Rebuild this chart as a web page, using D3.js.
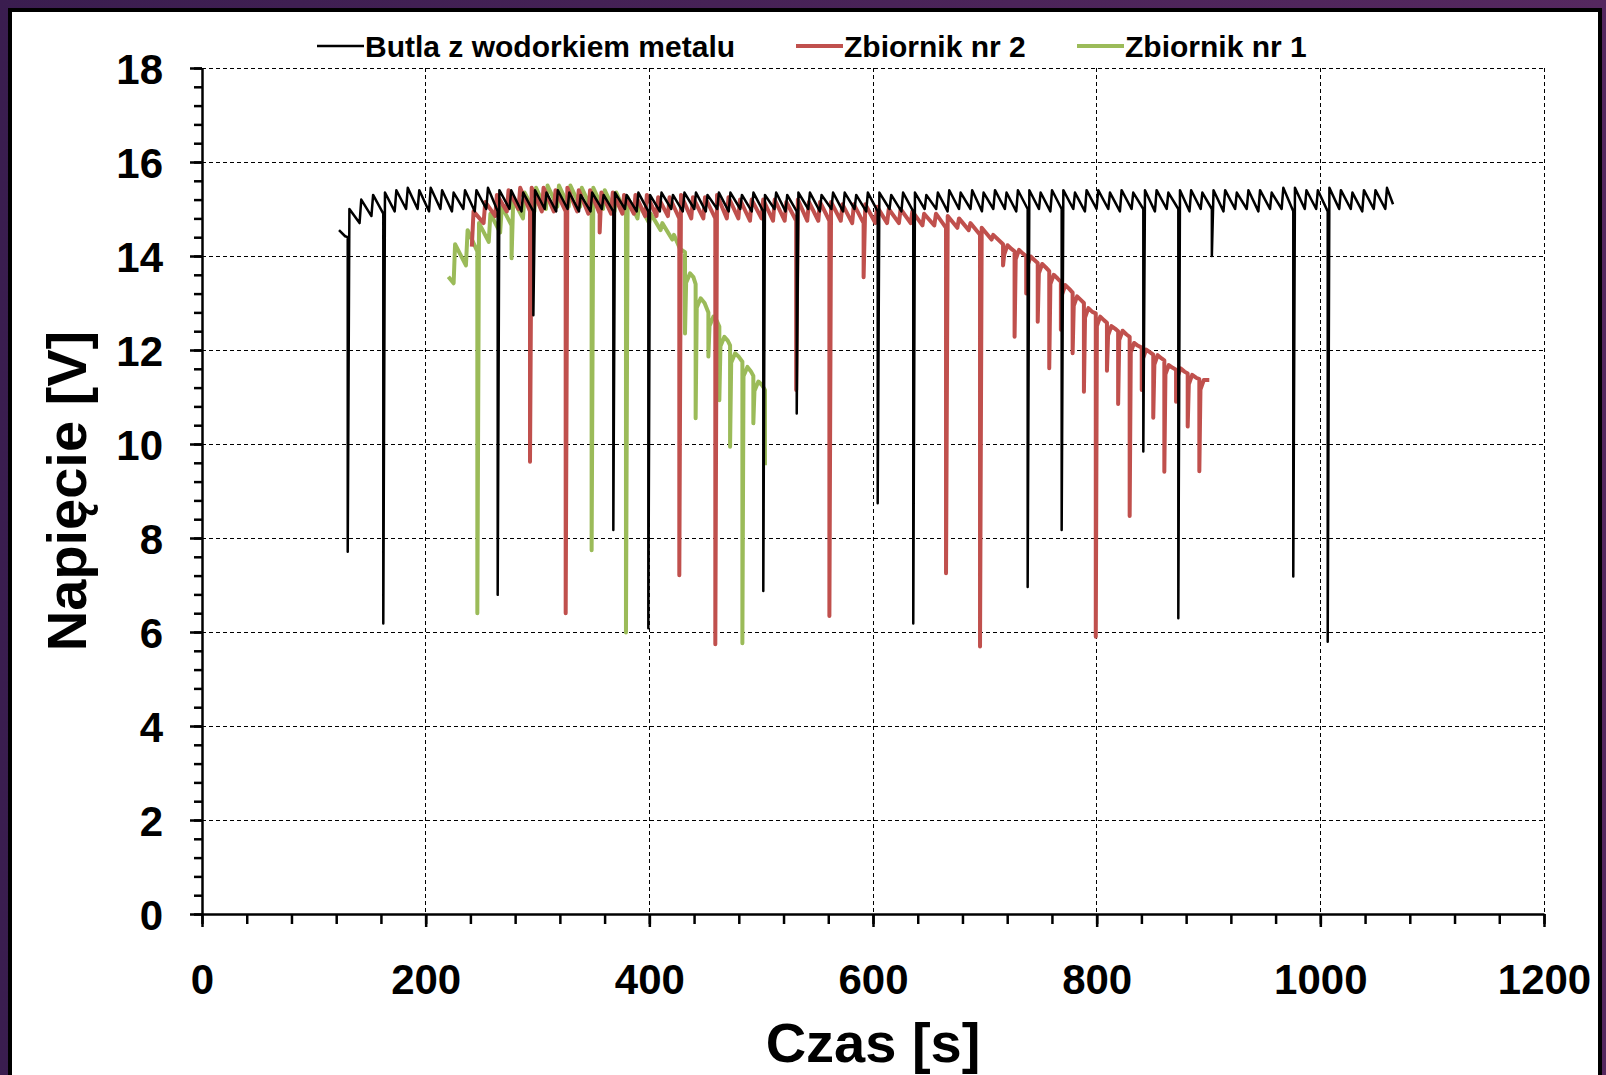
<!DOCTYPE html>
<html>
<head>
<meta charset="utf-8">
<script src="https://cdn.jsdelivr.net/npm/d3@7/dist/d3.min.js"></script>
<style>
  body { margin: 0; background: #3c2051; }
  svg { display: block; }
  text { font-family: "Liberation Sans", Arial, sans-serif; font-weight: bold; fill: #000; }
  .axis text { font-size: 42px; }
  .axis path, .axis line { stroke: #000; stroke-width: 2.5; }
  .grid line { stroke: #000; stroke-width: 1; stroke-dasharray: 4,3; shape-rendering: crispEdges; }
  .series { fill: none; stroke-linejoin: round; }
</style>
</head>
<body>
<svg id="chart"></svg>
<script>
// Tick labels
const xTicks = [0, 200, 400, 600, 800, 1000, 1200];
const yTicks = [0, 2, 4, 6, 8, 10, 12, 14, 16, 18];
const xTitle = 'Czas [s]';
const yTitle = 'Napięcie [V]';
const seriesNames = ['Butla z wodorkiem metalu', 'Zbiornik nr 2', 'Zbiornik nr 1'];

// Butla z wodorkiem metalu: [czas s, napięcie V]
const butla = [
  [122.5,14.55],[128.0,14.42],
  [130.3,14.4],[130.3,7.71],[131.8,15.0], [140.9,14.7],[142.4,15.2], [151.5,14.85],[153.0,15.3],
  [162.1,14.9],[162.1,6.18],[163.6,15.35], [172.3,14.95],[173.8,15.4], [182.5,15.0],[184.0,15.45],
  [192.8,15.0],[194.3,15.4], [203.0,14.95],[204.5,15.45], [213.2,15.0],[214.7,15.4],
  [223.5,14.95],[225.0,15.35], [233.7,15.0],[235.2,15.4], [243.9,14.95],[245.4,15.4],
  [254.2,15.0],[255.7,15.45], [264.4,14.95],[264.4,6.79],[265.9,15.4], [275.0,15.0],[276.5,15.4],
  [285.7,14.95],[287.2,15.35], [296.3,14.95],[296.3,12.74],[297.8,15.4], [306.5,15.0],[308.0,15.35],
  [316.7,14.95],[318.2,15.4], [326.9,15.0],[328.4,15.35], [337.1,14.95],[338.6,15.3],
  [347.4,14.95],[348.9,15.35], [357.6,15.0],[359.1,15.3], [367.8,14.95],[367.8,8.17],[369.3,15.35],
  [378.2,15.0],[379.7,15.3], [388.7,14.95],[390.2,15.35], [399.1,14.95],[399.1,6.08],[400.6,15.3],
  [409.4,14.95],[410.9,15.35], [419.6,15.0],[421.1,15.3], [429.9,14.95],[431.4,15.35],
  [440.2,15.0],[441.7,15.35], [450.5,14.95],[452.0,15.3], [460.7,15.0],[462.2,15.35],
  [471.0,14.95],[472.5,15.35], [481.3,15.0],[482.8,15.3], [491.6,14.95],[493.1,15.35],
  [501.9,14.95],[501.9,6.87],[503.4,15.3], [511.9,15.0],[513.4,15.35], [521.8,14.95],[523.3,15.3],
  [531.8,14.95],[531.8,10.65],[533.3,15.35], [542.1,15.0],[543.6,15.35], [552.5,14.95],[554.0,15.3],
  [562.8,15.0],[564.3,15.35], [573.2,14.95],[574.7,15.35], [583.5,15.0],[585.0,15.3],
  [593.9,14.95],[595.4,15.35], [604.2,14.95],[604.2,8.74],[605.7,15.35], [614.8,15.0],[616.3,15.3],
  [625.4,14.95],[626.9,15.35], [636.0,14.95],[636.0,6.18],[637.5,15.35], [646.2,15.0],[647.7,15.3],
  [656.5,15.0],[658.0,15.35], [666.7,14.95],[668.2,15.4], [676.9,15.0],[678.4,15.35],
  [687.2,15.0],[688.7,15.4], [697.4,14.95],[698.9,15.35], [707.6,15.0],[709.1,15.4],
  [717.9,15.0],[719.4,15.35], [728.1,14.95],[729.6,15.4], [738.3,15.0],[738.3,6.96],[739.8,15.4],
  [748.4,15.0],[749.9,15.35], [758.6,14.95],[760.1,15.4], [768.7,15.0],[768.7,8.17],[770.2,15.4],
  [779.1,15.0],[780.6,15.35], [789.5,14.95],[791.0,15.4], [799.9,15.0],[801.4,15.4],
  [810.4,15.0],[811.9,15.35], [820.8,14.95],[822.3,15.4], [831.2,15.0],[832.7,15.35],
  [841.7,15.0],[841.7,9.84],[843.2,15.4], [852.1,14.95],[853.6,15.4], [862.6,15.0],[864.1,15.35],
  [873.0,15.0],[873.0,6.29],[874.5,15.4], [883.0,14.95],[884.5,15.4], [893.0,15.0],[894.5,15.35],
  [903.0,15.0],[903.0,14.0],[904.5,15.4], [913.4,14.95],[914.9,15.4], [923.8,15.0],[925.3,15.35],
  [934.2,15.0],[935.7,15.4], [944.6,14.95],[946.1,15.4], [955.0,15.0],[956.5,15.35],
  [965.4,15.0],[966.9,15.45], [975.8,14.95],[975.8,7.18],[977.3,15.45], [986.1,15.0],[987.6,15.4],
  [996.3,15.0],[997.8,15.4], [1006.6,14.95],[1006.6,5.79],[1008.1,15.45], [1016.9,15.0],[1018.4,15.4],
  [1027.2,15.0],[1028.7,15.35], [1037.5,14.95],[1039.0,15.4], [1047.8,15.0],[1049.3,15.4],
  [1058.1,15.0],[1059.6,15.45], [1065.0,15.1]
];

// Zbiornik nr 2
const zbiornik2 = [
  [241.3,14.2],[242.8,14.95], [251.8,14.7],[253.3,15.15], [262.2,14.85],[263.7,15.3],
  [272.6,14.95],[274.1,15.4], [283.0,15.0],[284.5,15.45], [293.3,14.95],[293.3,9.62],[294.8,15.45],
  [303.9,14.95],[305.4,15.45], [314.6,14.95],[316.1,15.4], [325.2,14.95],[325.2,6.40],[326.7,15.45],
  [335.4,14.95],[336.9,15.4], [345.5,14.9],[347.0,15.4], [355.6,14.9],[355.6,14.5],[357.1,15.35],
  [365.8,14.9],[367.3,15.35], [375.9,14.9],[377.4,15.3], [386.1,14.9],[387.6,15.3],
  [396.3,14.85],[397.8,15.3], [406.4,14.85],[407.9,15.25], [416.6,14.85],[418.1,15.25],
  [426.8,14.8],[426.8,7.21],[428.3,15.3], [437.5,14.8],[439.0,15.25], [448.3,14.8],[449.8,15.25],
  [459.0,14.8],[459.0,5.74],[460.5,15.3], [469.3,14.8],[470.8,15.25], [479.6,14.8],[481.1,15.2],
  [490.0,14.75],[491.5,15.2], [500.3,14.8],[501.8,15.2], [510.6,14.75],[512.1,15.2],
  [521.0,14.75],[522.5,15.15], [531.3,14.75],[531.3,11.15],[532.8,15.2], [541.2,14.75],[542.7,15.15],
  [551.1,14.75],[552.6,15.15], [561.0,14.75],[561.0,6.34],[562.5,15.15], [571.2,14.75],[572.7,15.1],
  [581.4,14.7],[582.9,15.1], [591.6,14.7],[591.6,13.55],[593.1,15.1], [602.1,14.7],[603.6,15.05],
  [612.6,14.7],[614.1,15.0], [623.2,14.7],[624.7,15.0], [633.7,14.7],[635.2,14.95],
  [644.2,14.65],[645.7,14.9], [654.8,14.65],[656.3,14.9], [665.3,14.6],[665.3,7.25],[666.8,14.85],
  [675.4,14.6],[676.9,14.8], [685.6,14.55],[687.1,14.7], [695.7,14.45],[695.7,5.69],[697.2,14.6],
  [706.0,14.35],[707.5,14.45],
  [716.3,14.25],[716.3,13.8],[717.3,14.03],[720.3,14.23],[723.8,14.15],
  [726.6,14.1],[726.6,12.28],[727.6,13.93],[730.6,14.13],[734.1,14.05],
  [737.0,14.0],[737.0,13.2],[738.0,13.79],[741.0,13.99],[744.5,13.91],
  [747.3,13.85],[747.3,12.6],[748.3,13.63],[751.3,13.83],[754.8,13.75],
  [757.6,13.68],[757.6,11.61],[758.6,13.4],[761.6,13.6],[765.1,13.52],
  [768.0,13.45],[768.0,12.43],[769.0,13.18],[772.0,13.38],[775.5,13.3],
  [778.5,13.22],[778.5,11.93],[779.5,12.94],[782.5,13.14],[786.0,13.06],
  [788.6,13.0],[788.6,11.11],[789.6,12.69],[792.6,12.89],[796.1,12.81],
  [799.2,12.78],[799.2,5.9],[800.2,12.51],[803.2,12.71],[806.7,12.63],
  [809.2,12.58],[809.2,11.56],[810.2,12.31],[813.2,12.51],[816.7,12.45],
  [819.2,12.4],[819.2,10.85],[820.2,12.21],[823.2,12.41],[826.7,12.33],
  [829.5,12.28],[829.5,8.47],[830.5,11.95],[833.5,12.15],[837.0,12.09],
  [840.3,12.05],[840.3,11.15],[841.3,11.81],[844.3,12.01],[847.8,11.95],
  [850.6,11.9],[850.6,10.56],[851.6,11.69],[854.6,11.89],[858.1,11.82],
  [860.5,11.78],[860.5,9.41],[861.5,11.48],[864.5,11.68],[868.0,11.62],
  [871.0,11.58],[871.0,10.9],[872.0,11.41],[875.0,11.61],[878.5,11.54],
  [881.4,11.5],[881.4,10.37],[882.4,11.27],[885.4,11.47],[888.9,11.41],
  [891.8,11.38],[891.8,9.42],[892.8,11.16],[895.8,11.36],[900.7,11.36]
];

// Zbiornik nr 1
const zbiornik1 = [
  [220.3,13.56],[225.0,13.42],[226.3,14.25], [236.0,13.8],[237.5,14.55],
  [246.2,14.1],[246.2,6.40],[247.7,14.7], [256.4,14.3],[257.9,14.9], [266.6,14.5],[268.1,15.05],
  [276.8,14.65],[276.8,13.95],[278.3,15.2], [287.0,14.8],[288.5,15.35], [297.2,14.95],[298.7,15.45],
  [307.5,15.0],[309.0,15.5], [317.7,15.05],[319.2,15.5], [327.9,15.05],[329.4,15.5],
  [338.1,15.05],[339.6,15.45], [348.4,15.0],[348.4,7.74],[349.9,15.45], [358.6,15.0],[360.1,15.4],
  [368.9,14.95],[370.4,15.35], [379.1,14.9],[379.1,5.99],[380.6,15.25], [389.4,14.8],[390.9,15.1],
  [399.8,14.7],[401.3,14.9], [410.1,14.55],[411.6,14.7], [420.5,14.35],[422.0,14.45], [427.5,14.15],
  [431.9,14.08],[431.9,12.35],[432.9,13.43],[436.4,13.63],[439.4,13.55],
  [441.4,13.4],[441.4,10.55],[442.4,12.9],[445.9,13.1],[449.4,13.0],
  [452.8,12.8],[452.8,11.86],[453.8,12.51],[457.3,12.71],[460.3,12.62],
  [462.6,12.5],[462.6,10.93],[463.6,12.08],[467.1,12.28],[470.1,12.2],
  [472.2,12.1],[472.2,9.94],[473.2,11.73],[476.7,11.93],[480.2,11.85],
  [483.2,11.75],[483.2,5.76],[484.2,11.44],[487.7,11.64],[490.7,11.55],
  [493.0,11.45],[493.0,10.44],[494.0,11.13],[497.5,11.33],[500.9,11.25],
  [503.4,11.15],[503.4,9.55]
];

class WykresNapiecia {
    /**
     * Class constructor with basic chart configuration
     */
    constructor(_config, _series) {
        this.config = {
            parentElement: _config.parentElement,
            width: 1606,
            height: 1075,
            margin: {top: 68, right: 62, bottom: 161, left: 202},
            colors: ['#000000', '#c0504d', '#9bbb59'],
            strokes: [2.5, 4, 4]
        }
        this.series = _series;
        this.initVis();
    }

    /**
     * Initialize scales/axes and append static chart elements
     */
    initVis() {
        let vis = this;
        const m = vis.config.margin;
        vis.innerWidth = vis.config.width - m.left - m.right;
        vis.innerHeight = vis.config.height - m.top - m.bottom;

        vis.xScale = d3.scaleLinear().domain([0, 1200]).range([0, vis.innerWidth]);
        vis.yScale = d3.scaleLinear().domain([0, 18]).range([vis.innerHeight, 0]);

        vis.svg = d3.select(vis.config.parentElement)
            .attr('width', vis.config.width)
            .attr('height', vis.config.height);

        // purple slide background + white panel
        const grad = vis.svg.append('defs').append('linearGradient')
            .attr('id', 'tlo').attr('x1', 0).attr('x2', 1).attr('y1', 0).attr('y2', 0);
        grad.append('stop').attr('offset', 0).attr('stop-color', '#3a1d4f');
        grad.append('stop').attr('offset', 1).attr('stop-color', '#55285f');
        vis.svg.append('rect')
            .attr('width', vis.config.width).attr('height', vis.config.height)
            .attr('fill', 'url(#tlo)');
        vis.svg.append('rect')
            .attr('x', 10).attr('y', 10)
            .attr('width', 1590).attr('height', 1085)
            .attr('fill', '#fff').attr('stroke', '#000').attr('stroke-width', 4);

        vis.chart = vis.svg.append('g')
            .attr('transform', `translate(${m.left},${m.top})`);

        vis.gridG = vis.chart.append('g').attr('class', 'grid');
        vis.linesG = vis.chart.append('g');
        vis.xAxisG = vis.chart.append('g').attr('class', 'axis x-axis')
            .attr('transform', `translate(0,${vis.innerHeight})`);
        vis.yAxisG = vis.chart.append('g').attr('class', 'axis y-axis');

        vis.line = d3.line()
            .x(d => vis.xScale(d[0]))
            .y(d => vis.yScale(d[1]));

        vis.renderVis();
    }

    /**
     * Draw grid, axes, series and legend
     */
    renderVis() {
        let vis = this;

        // dashed grid
        vis.gridG.selectAll('.gx').data(xTicks.slice(1)).join('line')
            .attr('class', 'gx')
            .attr('x1', d => vis.xScale(d)).attr('x2', d => vis.xScale(d))
            .attr('y1', 0).attr('y2', vis.innerHeight);
        vis.gridG.selectAll('.gy').data(yTicks.slice(1)).join('line')
            .attr('class', 'gy')
            .attr('x1', 0).attr('x2', vis.innerWidth)
            .attr('y1', d => vis.yScale(d)).attr('y2', d => vis.yScale(d));

        // minor ticks first, major axis on top
        vis.xAxisG.append('g')
            .call(d3.axisBottom(vis.xScale).tickValues(d3.range(0, 1201, 40)).tickSize(10).tickFormat(''))
            .call(g => g.select('.domain').remove());
        vis.yAxisG.append('g')
            .call(d3.axisLeft(vis.yScale).tickValues(d3.range(0, 18.01, 0.4)).tickSize(8).tickFormat(''))
            .call(g => g.select('.domain').remove());

        vis.xAxisG.append('g')
            .call(d3.axisBottom(vis.xScale).tickValues(xTicks).tickFormat(d3.format('d'))
                .tickSize(13).tickSizeOuter(0).tickPadding(37));
        vis.yAxisG.append('g')
            .call(d3.axisLeft(vis.yScale).tickValues(yTicks).tickFormat(d3.format('d'))
                .tickSize(12).tickSizeOuter(0).tickPadding(27))
            .call(g => g.selectAll('text').attr('dy', '0.36em'));

        // series: drawn bottom-up (green, red, black)
        [2, 1, 0].forEach(i => {
            vis.linesG.append('path')
                .datum(vis.series[i])
                .attr('class', 'series')
                .attr('stroke', vis.config.colors[i])
                .attr('stroke-width', vis.config.strokes[i])
                .attr('d', vis.line);
        });

        // axis titles
        vis.svg.append('text')
            .attr('x', vis.config.margin.left + vis.innerWidth / 2)
            .attr('y', 1062)
            .attr('text-anchor', 'middle')
            .style('font-size', '56px')
            .text(xTitle);
        vis.svg.append('text')
            .attr('transform', `translate(86,${vis.config.margin.top + vis.innerHeight / 2}) rotate(-90)`)
            .attr('text-anchor', 'middle')
            .style('font-size', '56px')
            .text(yTitle);

        // legend
        const legendX = [317, 796, 1077];
        const legend = vis.svg.selectAll('.legend').data(seriesNames).join('g')
            .attr('class', 'legend')
            .attr('transform', (d, i) => `translate(${legendX[i]},46)`);
        legend.append('line')
            .attr('x1', 0).attr('x2', 47)
            .attr('stroke', (d, i) => vis.config.colors[i])
            .attr('stroke-width', (d, i) => vis.config.strokes[i]);
        legend.append('text')
            .attr('x', 48).attr('y', 11)
            .style('font-size', '30px')
            .text(d => d);
    }
}

new WykresNapiecia({parentElement: '#chart'}, [butla, zbiornik2, zbiornik1]);
</script>
</body>
</html>
